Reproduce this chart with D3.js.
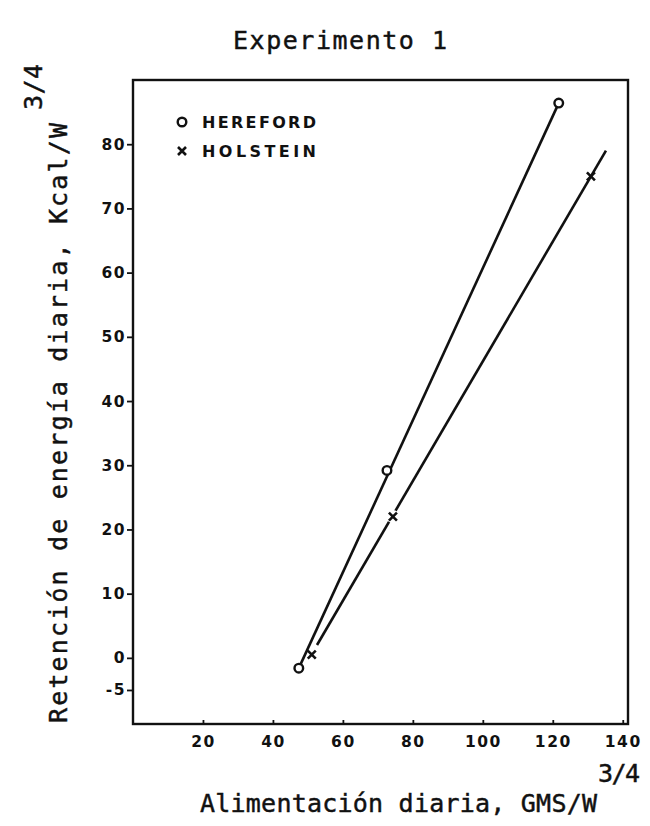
<!DOCTYPE html>
<html>
<head>
<meta charset="utf-8">
<script src="https://cdn.jsdelivr.net/npm/d3@7"></script>
<style>
  html, body { margin: 0; padding: 0; background: #fff; }
  svg { display: block; }
  .mono { font-family: "DejaVu Sans Mono", "Liberation Mono", monospace; fill: #111; stroke: #111; stroke-width: 0.45; }
  .tick text { font-family: "DejaVu Sans", sans-serif; font-weight: bold; font-size: 15.5px; fill: #111; }
  .tick line { stroke: #111; stroke-width: 1.8; }
</style>
</head>
<body>
<svg id="chart" width="650" height="826"></svg>
<script>
// Energy retention vs. daily intake, two breeds
const hereford = [
  { x: 47.4, y: -1.6 },
  { x: 72.6, y: 29.2 },
  { x: 121.7, y: 86.4 }
];
const holstein = [
  { x: 51.1, y: 0.5 },
  { x: 74.3, y: 22.0 },
  { x: 130.9, y: 75.0 }
];
// fitted lines (end points)
const herefordLine = [ { x: 47.4, y: -1.6 }, { x: 121.7, y: 86.4 } ];
const holsteinLine = [ { x: 52.6, y: 2.0 }, { x: 135.2, y: 79.0 } ];

const xTicks = [20, 40, 60, 80, 100, 120, 140];
const yTicks = [-5, 0, 10, 20, 30, 40, 50, 60, 70, 80];
const legendItems = [ { name: "HEREFORD", shape: "circle" }, { name: "HOLSTEIN", shape: "cross" } ];

const svg = d3.select("#chart");
const plot = { left: 133, right: 628, top: 80, bottom: 724 };

const x = d3.scaleLinear().domain([0, 141.5]).range([plot.left, plot.right]);
const y = d3.scaleLinear().domain([-10.3, 90]).range([plot.bottom, plot.top]);

// frame
svg.append("rect")
  .attr("x", plot.left).attr("y", plot.top)
  .attr("width", plot.right - plot.left).attr("height", plot.bottom - plot.top)
  .attr("fill", "none").attr("stroke", "#111").attr("stroke-width", 2.4);

// axes
const xAxis = svg.append("g")
  .attr("transform", `translate(0,${plot.bottom})`)
  .call(d3.axisBottom(x).tickValues(xTicks).tickSize(-4).tickPadding(12).tickFormat(d => String(d)));
xAxis.select(".domain").remove();
xAxis.selectAll(".tick text").attr("letter-spacing", 1.5);

const yAxis = svg.append("g")
  .attr("transform", `translate(${plot.left},0)`)
  .call(d3.axisLeft(y).tickValues(yTicks).tickSize(6).tickPadding(1).tickFormat(d => String(d)));
yAxis.select(".domain").remove();
yAxis.selectAll(".tick text").attr("letter-spacing", 1.5);

// regression lines
const line = d3.line().x(d => x(d.x)).y(d => y(d.y));
[herefordLine, holsteinLine].forEach(seg => {
  svg.append("path").datum(seg)
    .attr("d", line)
    .attr("fill", "none").attr("stroke", "#111").attr("stroke-width", 2.6);
});

// markers
function drawCircle(g, cx, cy) {
  g.append("circle").attr("cx", cx).attr("cy", cy).attr("r", 4.3)
    .attr("fill", "#fff").attr("stroke", "#111").attr("stroke-width", 2.4);
}
function drawCross(g, cx, cy, halo) {
  if (halo) g.append("circle").attr("cx", cx).attr("cy", cy).attr("r", 6.5).attr("fill", "#fff");
  const s = 4;
  g.append("path")
    .attr("d", `M${cx - s},${cy - s}L${cx + s},${cy + s}M${cx - s},${cy + s}L${cx + s},${cy - s}`)
    .attr("stroke", "#111").attr("stroke-width", 2.6).attr("fill", "none");
}
const marks = svg.append("g");
hereford.forEach(d => drawCircle(marks, x(d.x), y(d.y)));
holstein.forEach((d, i) => drawCross(marks, x(d.x), y(d.y), i === 1));

// legend
const legend = svg.append("g");
legendItems.forEach((item, i) => {
  const ly = 122 + i * 29;
  if (item.shape === "circle") drawCircle(legend, 182, ly);
  else drawCross(legend, 182, ly, false);
  legend.append("text")
    .attr("x", 202).attr("y", ly + 6)
    .attr("font-family", "DejaVu Sans, sans-serif").attr("font-weight", "bold")
    .attr("font-size", 16).attr("fill", "#111")
    .attr("textLength", 114).attr("lengthAdjust", "spacing")
    .text(item.name);
});

// title
svg.append("text").attr("class", "mono")
  .attr("x", 233).attr("y", 49)
  .attr("font-size", 25)
  .attr("textLength", 214).attr("lengthAdjust", "spacing")
  .text("Experimento 1");

// x label
svg.append("text").attr("class", "mono")
  .attr("x", 200).attr("y", 812)
  .attr("font-size", 25)
  .attr("textLength", 397).attr("lengthAdjust", "spacing")
  .text("Alimentación diaria, GMS/W");
svg.append("text").attr("class", "mono")
  .attr("x", 598).attr("y", 782)
  .attr("font-size", 25)
  .attr("textLength", 42).attr("lengthAdjust", "spacing")
  .text("3/4");

// y label
svg.append("text").attr("class", "mono")
  .attr("transform", "translate(67,723) rotate(-90)")
  .attr("font-size", 25)
  .attr("textLength", 600).attr("lengthAdjust", "spacing")
  .text("Retención de energía diaria, Kcal/W");
svg.append("text").attr("class", "mono")
  .attr("transform", "translate(42,110) rotate(-90)")
  .attr("font-size", 25)
  .attr("textLength", 46).attr("lengthAdjust", "spacing")
  .text("3/4");
</script>
</body>
</html>
